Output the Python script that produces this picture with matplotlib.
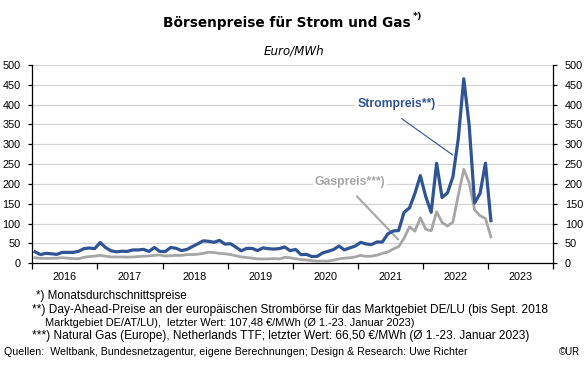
import matplotlib
matplotlib.use("Agg")
import matplotlib.pyplot as plt
import numpy as np

plt.rcParams["font.family"] = ["Liberation Sans", "DejaVu Sans"]

years = [2016, 2017, 2018, 2019, 2020, 2021, 2022, 2023]
year_labels = ["2016", "2017", "2018", "2019", "2020", "2021", "2022", "2023"]
y_ticks = [0, 50, 100, 150, 200, 250, 300, 350, 400, 450, 500]

# Monthly averages Jan 2016 .. Jan 2023 (EUR/MWh)
strom = [
    29.0, 22.0, 25.0, 24.0, 22.5, 27.5, 27.5, 27.5, 30.0, 37.0, 38.5, 37.0,
    52.4, 39.7, 31.5, 29.0, 30.4, 30.0, 33.7, 33.7, 35.1, 30.0, 40.0, 30.0,
    29.5, 40.0, 37.8, 32.0, 35.0, 42.2, 49.1, 56.7, 55.4, 53.0, 57.9, 48.3,
    49.4, 40.9, 31.5, 37.7, 37.5, 32.1, 38.9, 36.8, 35.9, 37.0, 41.1, 31.9,
    35.0, 21.9, 22.5, 17.1, 17.6, 26.2, 30.1, 34.6, 43.6, 33.9, 38.8, 43.5,
    52.8, 48.8, 47.2, 53.8, 53.7, 74.1, 81.4, 82.7, 128.4, 139.5, 176.2, 221.1,
    167.9, 128.8, 252.0, 165.8, 177.5, 218.1, 315.1, 465.2, 347.6, 151.9, 176.0, 252.6,
    107.48,
]
gas = [
    14.0, 12.5, 12.5, 12.5, 13.0, 14.0, 13.0, 12.0, 11.5, 15.0, 17.0, 18.0,
    20.0, 18.0, 16.0, 16.0, 16.0, 15.5, 16.0, 17.0, 18.0, 18.5, 20.0, 21.0,
    18.5, 19.0, 20.0, 20.0, 22.0, 22.0, 23.0, 25.0, 28.0, 27.0, 25.0, 24.0,
    22.0, 19.0, 16.0, 14.5, 13.0, 11.0, 11.0, 11.0, 12.0, 11.0, 15.0, 14.0,
    11.5, 9.5, 8.5, 6.5, 5.5, 5.5, 5.5, 8.0, 11.0, 13.0, 14.0, 16.0,
    20.0, 17.5, 18.0, 20.5, 25.0, 28.5, 36.0, 42.0, 63.0, 92.0, 81.0, 115.0,
    86.0, 82.0, 130.0, 103.0, 94.0, 104.0, 172.0, 237.0, 203.0, 135.0, 120.0, 113.0,
    66.50,
]

x = 2016 + (np.arange(len(strom)) + 0.5) / 12.0

W, H = 586, 367
fig = plt.figure(figsize=(W / 100, H / 100), dpi=100)
fig.patch.set_facecolor("white")

ax = fig.add_axes([32.3 / W, (H - 263.3) / H, (553.3 - 32.3) / W, (263.3 - 65.0) / H])
ax.set_ylim(0, 500)

BLUE = "#2E5496"
GRAY = "#A6A6A6"

for t in y_ticks[1:]:
    ax.axhline(t, color="#D4D4D4", lw=0.9, zorder=0)

ax.plot(x, gas, color=GRAY, lw=2.0, solid_joinstyle="round", zorder=3)
ax.plot(x, strom, color=BLUE, lw=2.3, solid_joinstyle="round", zorder=4)

ax.spines["top"].set_visible(False)
for s in ["left", "right", "bottom"]:
    ax.spines[s].set_color("black")
    ax.spines[s].set_linewidth(0.9)

ax.set_yticks(y_ticks)
ax.tick_params(axis="y", which="both", left=True, right=True, labelleft=True, labelright=True,
               direction="out", length=3, width=0.9, labelsize=7.8, pad=5.3)

ax.set_xticks(years + [2024])
ax.set_xticklabels([])
ax.tick_params(axis="x", direction="out", length=4, width=0.9)
ax.set_xticks([y + 0.5 for y in years], minor=True)
ax.set_xticklabels(year_labels, minor=True, fontsize=7.8)
ax.tick_params(axis="x", which="minor", length=0, pad=6)
ax.set_xlim(2016, 2024)

# annotations
ax.annotate("", xy=(2022.49, 269), xytext=(2021.635, 369),
            arrowprops=dict(arrowstyle="-", color=BLUE, lw=0.8), zorder=2)
ax.text(2021.595, 401, "Strompreis**)", color=BLUE, fontsize=8.8, fontweight="bold",
        ha="center", va="center",
        bbox=dict(facecolor="white", edgecolor="none", pad=1.5), zorder=5)
ax.annotate("", xy=(2021.646, 55), xytext=(2020.955, 174),
            arrowprops=dict(arrowstyle="-", color=GRAY, lw=1.5), zorder=2)
ax.text(2020.878, 206, "Gaspreis***)", color=GRAY, fontsize=8.8, fontweight="bold",
        ha="center", va="center",
        bbox=dict(facecolor="white", edgecolor="none", pad=1.5), zorder=5)

# title
fig.text(162.6 / W, 1 - 23 / H, "Börsenpreise für Strom und Gas", fontsize=9.8,
         fontweight="bold", ha="left", va="center", fontfamily="DejaVu Sans")
fig.text(413 / W, 1 - 17 / H, "*)", fontsize=6.8, fontweight="bold", ha="left", va="center",
         fontfamily="DejaVu Sans")
fig.text(294 / W, 1 - 51 / H, "Euro/MWh", fontsize=8.6, style="italic", ha="center",
         va="center", fontfamily="DejaVu Sans")

# footnotes
fig.text(36 / W, 1 - 296.5 / H, "*) Monatsdurchschnittspreise", fontsize=8.4, va="center")
fig.text(32 / W, 1 - 310 / H,
         "**) Day-Ahead-Preise an der europäischen Strombörse für das Marktgebiet DE/LU (bis Sept. 2018",
         fontsize=8.6, va="center")
fig.text(45 / W, 1 - 322.5 / H,
         "Marktgebiet DE/AT/LU),  letzter Wert: 107,48 €/MWh (Ø 1.-23. Januar 2023)",
         fontsize=7.9, va="center")
fig.text(32 / W, 1 - 335.5 / H,
         "***) Natural Gas (Europe), Netherlands TTF; letzter Wert: 66,50 €/MWh (Ø 1.-23. Januar 2023)",
         fontsize=8.6, va="center")
fig.text(4 / W, 1 - 352 / H,
         "Quellen:  Weltbank, Bundesnetzagentur, eigene Berechnungen; Design & Research: Uwe Richter",
         fontsize=7.7, va="center")
fig.text(559 / W, 1 - 352 / H, "©UR", fontsize=7.0, va="center")

fig.savefig("out.png", dpi=100, facecolor="white")
